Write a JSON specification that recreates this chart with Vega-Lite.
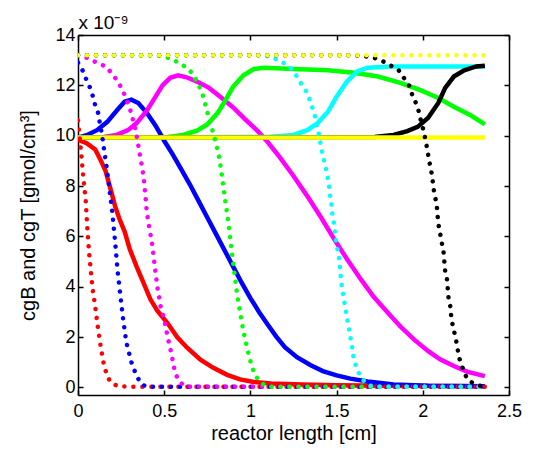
{
  "$schema": "https://vega.github.io/schema/vega-lite/v6.json",
  "autosize": {"type": "none"},
  "width": 431,
  "height": 360,
  "padding": {"left": 78, "top": 35, "right": 25, "bottom": 55},
  "background": "white",
  "config": {
    "font": "Liberation Sans",
    "view": {"stroke": null},
    "axis": {
      "domainColor": "black", "domainWidth": 1.5,
      "tickColor": "black", "tickWidth": 1.5, "tickSize": -5,
      "labelFont": "Liberation Sans", "labelFontSize": 18, "labelColor": "black",
      "titleFont": "Liberation Sans", "titleFontSize": 20, "titleFontWeight": "normal", "titleColor": "black",
      "grid": false
    }
  },
  "datasets": {
    "curves": [
      {"time": "t1", "quantity": "cgB", "x": 0, "y": 9.84},
      {"time": "t1", "quantity": "cgB", "x": 0.05, "y": 9.7},
      {"time": "t1", "quantity": "cgB", "x": 0.1, "y": 9.45},
      {"time": "t1", "quantity": "cgB", "x": 0.13, "y": 9.05},
      {"time": "t1", "quantity": "cgB", "x": 0.16, "y": 8.6},
      {"time": "t1", "quantity": "cgB", "x": 0.19, "y": 7.85},
      {"time": "t1", "quantity": "cgB", "x": 0.215, "y": 7.2},
      {"time": "t1", "quantity": "cgB", "x": 0.24, "y": 6.7},
      {"time": "t1", "quantity": "cgB", "x": 0.27, "y": 6.2},
      {"time": "t1", "quantity": "cgB", "x": 0.3, "y": 5.5},
      {"time": "t1", "quantity": "cgB", "x": 0.34, "y": 4.8},
      {"time": "t1", "quantity": "cgB", "x": 0.38, "y": 4.15},
      {"time": "t1", "quantity": "cgB", "x": 0.42, "y": 3.5},
      {"time": "t1", "quantity": "cgB", "x": 0.46, "y": 3.05},
      {"time": "t1", "quantity": "cgB", "x": 0.52, "y": 2.55},
      {"time": "t1", "quantity": "cgB", "x": 0.575, "y": 2.0},
      {"time": "t1", "quantity": "cgB", "x": 0.63, "y": 1.6},
      {"time": "t1", "quantity": "cgB", "x": 0.71, "y": 1.1},
      {"time": "t1", "quantity": "cgB", "x": 0.785, "y": 0.78},
      {"time": "t1", "quantity": "cgB", "x": 0.865, "y": 0.5},
      {"time": "t1", "quantity": "cgB", "x": 0.94, "y": 0.32},
      {"time": "t1", "quantity": "cgB", "x": 1.02, "y": 0.22},
      {"time": "t1", "quantity": "cgB", "x": 1.12, "y": 0.16},
      {"time": "t1", "quantity": "cgB", "x": 1.3, "y": 0.12},
      {"time": "t1", "quantity": "cgB", "x": 1.5, "y": 0.09},
      {"time": "t1", "quantity": "cgB", "x": 1.8, "y": 0.07},
      {"time": "t1", "quantity": "cgB", "x": 2.1, "y": 0.06},
      {"time": "t1", "quantity": "cgB", "x": 2.36, "y": 0.05},

      {"time": "t2", "quantity": "cgB", "x": 0, "y": 9.93},
      {"time": "t2", "quantity": "cgB", "x": 0.05, "y": 10.02},
      {"time": "t2", "quantity": "cgB", "x": 0.11, "y": 10.22},
      {"time": "t2", "quantity": "cgB", "x": 0.17, "y": 10.55},
      {"time": "t2", "quantity": "cgB", "x": 0.225, "y": 11.0},
      {"time": "t2", "quantity": "cgB", "x": 0.27, "y": 11.35},
      {"time": "t2", "quantity": "cgB", "x": 0.31, "y": 11.43},
      {"time": "t2", "quantity": "cgB", "x": 0.35, "y": 11.3},
      {"time": "t2", "quantity": "cgB", "x": 0.4, "y": 10.9},
      {"time": "t2", "quantity": "cgB", "x": 0.45, "y": 10.4},
      {"time": "t2", "quantity": "cgB", "x": 0.5, "y": 9.8},
      {"time": "t2", "quantity": "cgB", "x": 0.55, "y": 9.25},
      {"time": "t2", "quantity": "cgB", "x": 0.6, "y": 8.65},
      {"time": "t2", "quantity": "cgB", "x": 0.65, "y": 8.05},
      {"time": "t2", "quantity": "cgB", "x": 0.7, "y": 7.4},
      {"time": "t2", "quantity": "cgB", "x": 0.75, "y": 6.75},
      {"time": "t2", "quantity": "cgB", "x": 0.8, "y": 6.1},
      {"time": "t2", "quantity": "cgB", "x": 0.85, "y": 5.45},
      {"time": "t2", "quantity": "cgB", "x": 0.9, "y": 4.8},
      {"time": "t2", "quantity": "cgB", "x": 0.95, "y": 4.15},
      {"time": "t2", "quantity": "cgB", "x": 1.0, "y": 3.55},
      {"time": "t2", "quantity": "cgB", "x": 1.05, "y": 3.0},
      {"time": "t2", "quantity": "cgB", "x": 1.1, "y": 2.5},
      {"time": "t2", "quantity": "cgB", "x": 1.15, "y": 2.02},
      {"time": "t2", "quantity": "cgB", "x": 1.2, "y": 1.6},
      {"time": "t2", "quantity": "cgB", "x": 1.27, "y": 1.2},
      {"time": "t2", "quantity": "cgB", "x": 1.35, "y": 0.88},
      {"time": "t2", "quantity": "cgB", "x": 1.42, "y": 0.65},
      {"time": "t2", "quantity": "cgB", "x": 1.5, "y": 0.48},
      {"time": "t2", "quantity": "cgB", "x": 1.58, "y": 0.35},
      {"time": "t2", "quantity": "cgB", "x": 1.68, "y": 0.24},
      {"time": "t2", "quantity": "cgB", "x": 1.83, "y": 0.12},
      {"time": "t2", "quantity": "cgB", "x": 2.03, "y": 0.07},
      {"time": "t2", "quantity": "cgB", "x": 2.36, "y": 0.05},

      {"time": "t3", "quantity": "cgB", "x": 0, "y": 9.93},
      {"time": "t3", "quantity": "cgB", "x": 0.15, "y": 9.95},
      {"time": "t3", "quantity": "cgB", "x": 0.225, "y": 10.03},
      {"time": "t3", "quantity": "cgB", "x": 0.29, "y": 10.22},
      {"time": "t3", "quantity": "cgB", "x": 0.34, "y": 10.5},
      {"time": "t3", "quantity": "cgB", "x": 0.4, "y": 11.0},
      {"time": "t3", "quantity": "cgB", "x": 0.45, "y": 11.55},
      {"time": "t3", "quantity": "cgB", "x": 0.49, "y": 12.0},
      {"time": "t3", "quantity": "cgB", "x": 0.535, "y": 12.3},
      {"time": "t3", "quantity": "cgB", "x": 0.58, "y": 12.4},
      {"time": "t3", "quantity": "cgB", "x": 0.63, "y": 12.32},
      {"time": "t3", "quantity": "cgB", "x": 0.69, "y": 12.15},
      {"time": "t3", "quantity": "cgB", "x": 0.76, "y": 11.9},
      {"time": "t3", "quantity": "cgB", "x": 0.825, "y": 11.55},
      {"time": "t3", "quantity": "cgB", "x": 0.9, "y": 11.12},
      {"time": "t3", "quantity": "cgB", "x": 0.97, "y": 10.65},
      {"time": "t3", "quantity": "cgB", "x": 1.04, "y": 10.2},
      {"time": "t3", "quantity": "cgB", "x": 1.1, "y": 9.75},
      {"time": "t3", "quantity": "cgB", "x": 1.17, "y": 9.15},
      {"time": "t3", "quantity": "cgB", "x": 1.25, "y": 8.4},
      {"time": "t3", "quantity": "cgB", "x": 1.33, "y": 7.6},
      {"time": "t3", "quantity": "cgB", "x": 1.41, "y": 6.75},
      {"time": "t3", "quantity": "cgB", "x": 1.485, "y": 5.9},
      {"time": "t3", "quantity": "cgB", "x": 1.56, "y": 5.1},
      {"time": "t3", "quantity": "cgB", "x": 1.64, "y": 4.3},
      {"time": "t3", "quantity": "cgB", "x": 1.715, "y": 3.6},
      {"time": "t3", "quantity": "cgB", "x": 1.8, "y": 2.95},
      {"time": "t3", "quantity": "cgB", "x": 1.87, "y": 2.42},
      {"time": "t3", "quantity": "cgB", "x": 1.95, "y": 1.9},
      {"time": "t3", "quantity": "cgB", "x": 2.03, "y": 1.45},
      {"time": "t3", "quantity": "cgB", "x": 2.1, "y": 1.12},
      {"time": "t3", "quantity": "cgB", "x": 2.18, "y": 0.85},
      {"time": "t3", "quantity": "cgB", "x": 2.26, "y": 0.62},
      {"time": "t3", "quantity": "cgB", "x": 2.36, "y": 0.45},

      {"time": "t4", "quantity": "cgB", "x": 0, "y": 9.93},
      {"time": "t4", "quantity": "cgB", "x": 0.52, "y": 9.95},
      {"time": "t4", "quantity": "cgB", "x": 0.61, "y": 10.03},
      {"time": "t4", "quantity": "cgB", "x": 0.69, "y": 10.2},
      {"time": "t4", "quantity": "cgB", "x": 0.75, "y": 10.45},
      {"time": "t4", "quantity": "cgB", "x": 0.81, "y": 10.9},
      {"time": "t4", "quantity": "cgB", "x": 0.855, "y": 11.4},
      {"time": "t4", "quantity": "cgB", "x": 0.9, "y": 11.95},
      {"time": "t4", "quantity": "cgB", "x": 0.96, "y": 12.4},
      {"time": "t4", "quantity": "cgB", "x": 1.02, "y": 12.65},
      {"time": "t4", "quantity": "cgB", "x": 1.08, "y": 12.7},
      {"time": "t4", "quantity": "cgB", "x": 1.25, "y": 12.65},
      {"time": "t4", "quantity": "cgB", "x": 1.45, "y": 12.6},
      {"time": "t4", "quantity": "cgB", "x": 1.6, "y": 12.5},
      {"time": "t4", "quantity": "cgB", "x": 1.74, "y": 12.35},
      {"time": "t4", "quantity": "cgB", "x": 1.87, "y": 12.1},
      {"time": "t4", "quantity": "cgB", "x": 1.99, "y": 11.8},
      {"time": "t4", "quantity": "cgB", "x": 2.09, "y": 11.5},
      {"time": "t4", "quantity": "cgB", "x": 2.18, "y": 11.15},
      {"time": "t4", "quantity": "cgB", "x": 2.28, "y": 10.8},
      {"time": "t4", "quantity": "cgB", "x": 2.36, "y": 10.45},

      {"time": "t5", "quantity": "cgB", "x": 0, "y": 9.93},
      {"time": "t5", "quantity": "cgB", "x": 1.1, "y": 9.95},
      {"time": "t5", "quantity": "cgB", "x": 1.25, "y": 10.03},
      {"time": "t5", "quantity": "cgB", "x": 1.33, "y": 10.22},
      {"time": "t5", "quantity": "cgB", "x": 1.39, "y": 10.5},
      {"time": "t5", "quantity": "cgB", "x": 1.45, "y": 10.95},
      {"time": "t5", "quantity": "cgB", "x": 1.5, "y": 11.55},
      {"time": "t5", "quantity": "cgB", "x": 1.56, "y": 12.15},
      {"time": "t5", "quantity": "cgB", "x": 1.62, "y": 12.55},
      {"time": "t5", "quantity": "cgB", "x": 1.68, "y": 12.7},
      {"time": "t5", "quantity": "cgB", "x": 1.83, "y": 12.75},
      {"time": "t5", "quantity": "cgB", "x": 2.36, "y": 12.75},

      {"time": "t6", "quantity": "cgB", "x": 0, "y": 9.93},
      {"time": "t6", "quantity": "cgB", "x": 1.72, "y": 9.95},
      {"time": "t6", "quantity": "cgB", "x": 1.83, "y": 10.03},
      {"time": "t6", "quantity": "cgB", "x": 1.91, "y": 10.18},
      {"time": "t6", "quantity": "cgB", "x": 1.97, "y": 10.35},
      {"time": "t6", "quantity": "cgB", "x": 2.03, "y": 10.7},
      {"time": "t6", "quantity": "cgB", "x": 2.09, "y": 11.3},
      {"time": "t6", "quantity": "cgB", "x": 2.13, "y": 11.9},
      {"time": "t6", "quantity": "cgB", "x": 2.18, "y": 12.35},
      {"time": "t6", "quantity": "cgB", "x": 2.24, "y": 12.6},
      {"time": "t6", "quantity": "cgB", "x": 2.31, "y": 12.75},
      {"time": "t6", "quantity": "cgB", "x": 2.36, "y": 12.78},

      {"time": "t0", "quantity": "cgB", "x": 0, "y": 9.93},
      {"time": "t0", "quantity": "cgB", "x": 2.36, "y": 9.93},

      {"time": "t1", "quantity": "cgT", "x": 0, "y": 10.6},
      {"time": "t1", "quantity": "cgT", "x": 0.01, "y": 9.9},
      {"time": "t1", "quantity": "cgT", "x": 0.02, "y": 9.2},
      {"time": "t1", "quantity": "cgT", "x": 0.03, "y": 8.4},
      {"time": "t1", "quantity": "cgT", "x": 0.045, "y": 7.4},
      {"time": "t1", "quantity": "cgT", "x": 0.055, "y": 6.2},
      {"time": "t1", "quantity": "cgT", "x": 0.065, "y": 5.3},
      {"time": "t1", "quantity": "cgT", "x": 0.075, "y": 4.6},
      {"time": "t1", "quantity": "cgT", "x": 0.085, "y": 3.9},
      {"time": "t1", "quantity": "cgT", "x": 0.1, "y": 3.2},
      {"time": "t1", "quantity": "cgT", "x": 0.115, "y": 2.4},
      {"time": "t1", "quantity": "cgT", "x": 0.13, "y": 1.7},
      {"time": "t1", "quantity": "cgT", "x": 0.15, "y": 0.9},
      {"time": "t1", "quantity": "cgT", "x": 0.17, "y": 0.44},
      {"time": "t1", "quantity": "cgT", "x": 0.19, "y": 0.2},
      {"time": "t1", "quantity": "cgT", "x": 0.23, "y": 0.05},
      {"time": "t1", "quantity": "cgT", "x": 0.3, "y": 0.03},
      {"time": "t1", "quantity": "cgT", "x": 2.36, "y": 0.03},

      {"time": "t2", "quantity": "cgT", "x": 0, "y": 12.9},
      {"time": "t2", "quantity": "cgT", "x": 0.03, "y": 12.55},
      {"time": "t2", "quantity": "cgT", "x": 0.05, "y": 12.2},
      {"time": "t2", "quantity": "cgT", "x": 0.07, "y": 11.9},
      {"time": "t2", "quantity": "cgT", "x": 0.087, "y": 11.55},
      {"time": "t2", "quantity": "cgT", "x": 0.1, "y": 11.2},
      {"time": "t2", "quantity": "cgT", "x": 0.117, "y": 10.9},
      {"time": "t2", "quantity": "cgT", "x": 0.128, "y": 10.45},
      {"time": "t2", "quantity": "cgT", "x": 0.14, "y": 10.0},
      {"time": "t2", "quantity": "cgT", "x": 0.15, "y": 9.5},
      {"time": "t2", "quantity": "cgT", "x": 0.165, "y": 8.8},
      {"time": "t2", "quantity": "cgT", "x": 0.18, "y": 8.0},
      {"time": "t2", "quantity": "cgT", "x": 0.2, "y": 6.9},
      {"time": "t2", "quantity": "cgT", "x": 0.215, "y": 5.8},
      {"time": "t2", "quantity": "cgT", "x": 0.23, "y": 4.6},
      {"time": "t2", "quantity": "cgT", "x": 0.245, "y": 3.7},
      {"time": "t2", "quantity": "cgT", "x": 0.26, "y": 2.8},
      {"time": "t2", "quantity": "cgT", "x": 0.28, "y": 1.8},
      {"time": "t2", "quantity": "cgT", "x": 0.31, "y": 1.0},
      {"time": "t2", "quantity": "cgT", "x": 0.34, "y": 0.45},
      {"time": "t2", "quantity": "cgT", "x": 0.37, "y": 0.12},
      {"time": "t2", "quantity": "cgT", "x": 0.4, "y": 0.03},
      {"time": "t2", "quantity": "cgT", "x": 2.36, "y": 0.03},

      {"time": "t3", "quantity": "cgT", "x": 0, "y": 13.2},
      {"time": "t3", "quantity": "cgT", "x": 0.05, "y": 13.1},
      {"time": "t3", "quantity": "cgT", "x": 0.11, "y": 12.9},
      {"time": "t3", "quantity": "cgT", "x": 0.16, "y": 12.75},
      {"time": "t3", "quantity": "cgT", "x": 0.2, "y": 12.45},
      {"time": "t3", "quantity": "cgT", "x": 0.235, "y": 12.1},
      {"time": "t3", "quantity": "cgT", "x": 0.26, "y": 11.8},
      {"time": "t3", "quantity": "cgT", "x": 0.28, "y": 11.45},
      {"time": "t3", "quantity": "cgT", "x": 0.3, "y": 11.1},
      {"time": "t3", "quantity": "cgT", "x": 0.32, "y": 10.6},
      {"time": "t3", "quantity": "cgT", "x": 0.335, "y": 10.2},
      {"time": "t3", "quantity": "cgT", "x": 0.35, "y": 9.6},
      {"time": "t3", "quantity": "cgT", "x": 0.36, "y": 9.2},
      {"time": "t3", "quantity": "cgT", "x": 0.38, "y": 8.4},
      {"time": "t3", "quantity": "cgT", "x": 0.39, "y": 7.7},
      {"time": "t3", "quantity": "cgT", "x": 0.4, "y": 6.9},
      {"time": "t3", "quantity": "cgT", "x": 0.415, "y": 6.3},
      {"time": "t3", "quantity": "cgT", "x": 0.43, "y": 5.7},
      {"time": "t3", "quantity": "cgT", "x": 0.44, "y": 5.1},
      {"time": "t3", "quantity": "cgT", "x": 0.46, "y": 4.0},
      {"time": "t3", "quantity": "cgT", "x": 0.48, "y": 3.2},
      {"time": "t3", "quantity": "cgT", "x": 0.5, "y": 2.7},
      {"time": "t3", "quantity": "cgT", "x": 0.52, "y": 2.0},
      {"time": "t3", "quantity": "cgT", "x": 0.54, "y": 1.4},
      {"time": "t3", "quantity": "cgT", "x": 0.56, "y": 0.7},
      {"time": "t3", "quantity": "cgT", "x": 0.58, "y": 0.3},
      {"time": "t3", "quantity": "cgT", "x": 0.61, "y": 0.1},
      {"time": "t3", "quantity": "cgT", "x": 0.64, "y": 0.03},
      {"time": "t3", "quantity": "cgT", "x": 2.36, "y": 0.03},

      {"time": "t4", "quantity": "cgT", "x": 0, "y": 13.2},
      {"time": "t4", "quantity": "cgT", "x": 0.45, "y": 13.2},
      {"time": "t4", "quantity": "cgT", "x": 0.52, "y": 13.1},
      {"time": "t4", "quantity": "cgT", "x": 0.57, "y": 12.95},
      {"time": "t4", "quantity": "cgT", "x": 0.62, "y": 12.75},
      {"time": "t4", "quantity": "cgT", "x": 0.66, "y": 12.5},
      {"time": "t4", "quantity": "cgT", "x": 0.69, "y": 12.15},
      {"time": "t4", "quantity": "cgT", "x": 0.72, "y": 11.7},
      {"time": "t4", "quantity": "cgT", "x": 0.74, "y": 11.2},
      {"time": "t4", "quantity": "cgT", "x": 0.76, "y": 10.7},
      {"time": "t4", "quantity": "cgT", "x": 0.78, "y": 10.2},
      {"time": "t4", "quantity": "cgT", "x": 0.8, "y": 9.7},
      {"time": "t4", "quantity": "cgT", "x": 0.82, "y": 9.1},
      {"time": "t4", "quantity": "cgT", "x": 0.835, "y": 8.4},
      {"time": "t4", "quantity": "cgT", "x": 0.85, "y": 7.6},
      {"time": "t4", "quantity": "cgT", "x": 0.865, "y": 6.9},
      {"time": "t4", "quantity": "cgT", "x": 0.88, "y": 6.1},
      {"time": "t4", "quantity": "cgT", "x": 0.895, "y": 5.2},
      {"time": "t4", "quantity": "cgT", "x": 0.91, "y": 4.4},
      {"time": "t4", "quantity": "cgT", "x": 0.925, "y": 3.6},
      {"time": "t4", "quantity": "cgT", "x": 0.94, "y": 3.0},
      {"time": "t4", "quantity": "cgT", "x": 0.955, "y": 2.4},
      {"time": "t4", "quantity": "cgT", "x": 0.97, "y": 1.9},
      {"time": "t4", "quantity": "cgT", "x": 0.99, "y": 1.3},
      {"time": "t4", "quantity": "cgT", "x": 1.01, "y": 0.8},
      {"time": "t4", "quantity": "cgT", "x": 1.03, "y": 0.45},
      {"time": "t4", "quantity": "cgT", "x": 1.06, "y": 0.18},
      {"time": "t4", "quantity": "cgT", "x": 1.1, "y": 0.03},
      {"time": "t4", "quantity": "cgT", "x": 2.36, "y": 0.03},

      {"time": "t5", "quantity": "cgT", "x": 0, "y": 13.2},
      {"time": "t5", "quantity": "cgT", "x": 1.08, "y": 13.2},
      {"time": "t5", "quantity": "cgT", "x": 1.145, "y": 13.05},
      {"time": "t5", "quantity": "cgT", "x": 1.19, "y": 12.9},
      {"time": "t5", "quantity": "cgT", "x": 1.24, "y": 12.65},
      {"time": "t5", "quantity": "cgT", "x": 1.27, "y": 12.35},
      {"time": "t5", "quantity": "cgT", "x": 1.3, "y": 12.0},
      {"time": "t5", "quantity": "cgT", "x": 1.33, "y": 11.7},
      {"time": "t5", "quantity": "cgT", "x": 1.345, "y": 11.4},
      {"time": "t5", "quantity": "cgT", "x": 1.365, "y": 11.0},
      {"time": "t5", "quantity": "cgT", "x": 1.38, "y": 10.65},
      {"time": "t5", "quantity": "cgT", "x": 1.39, "y": 10.3},
      {"time": "t5", "quantity": "cgT", "x": 1.4, "y": 9.95},
      {"time": "t5", "quantity": "cgT", "x": 1.41, "y": 9.55},
      {"time": "t5", "quantity": "cgT", "x": 1.42, "y": 9.2},
      {"time": "t5", "quantity": "cgT", "x": 1.435, "y": 8.8},
      {"time": "t5", "quantity": "cgT", "x": 1.445, "y": 8.45},
      {"time": "t5", "quantity": "cgT", "x": 1.455, "y": 8.1},
      {"time": "t5", "quantity": "cgT", "x": 1.46, "y": 7.7},
      {"time": "t5", "quantity": "cgT", "x": 1.47, "y": 7.3},
      {"time": "t5", "quantity": "cgT", "x": 1.475, "y": 6.9},
      {"time": "t5", "quantity": "cgT", "x": 1.485, "y": 6.5},
      {"time": "t5", "quantity": "cgT", "x": 1.495, "y": 5.9},
      {"time": "t5", "quantity": "cgT", "x": 1.505, "y": 5.5},
      {"time": "t5", "quantity": "cgT", "x": 1.515, "y": 5.1},
      {"time": "t5", "quantity": "cgT", "x": 1.52, "y": 4.7},
      {"time": "t5", "quantity": "cgT", "x": 1.53, "y": 4.0},
      {"time": "t5", "quantity": "cgT", "x": 1.54, "y": 3.6},
      {"time": "t5", "quantity": "cgT", "x": 1.55, "y": 3.2},
      {"time": "t5", "quantity": "cgT", "x": 1.565, "y": 2.6},
      {"time": "t5", "quantity": "cgT", "x": 1.575, "y": 2.2},
      {"time": "t5", "quantity": "cgT", "x": 1.59, "y": 1.6},
      {"time": "t5", "quantity": "cgT", "x": 1.6, "y": 1.1},
      {"time": "t5", "quantity": "cgT", "x": 1.62, "y": 0.7},
      {"time": "t5", "quantity": "cgT", "x": 1.64, "y": 0.4},
      {"time": "t5", "quantity": "cgT", "x": 1.68, "y": 0.1},
      {"time": "t5", "quantity": "cgT", "x": 1.72, "y": 0.03},
      {"time": "t5", "quantity": "cgT", "x": 2.36, "y": 0.03},

      {"time": "t6", "quantity": "cgT", "x": 0, "y": 13.2},
      {"time": "t6", "quantity": "cgT", "x": 1.6, "y": 13.2},
      {"time": "t6", "quantity": "cgT", "x": 1.67, "y": 13.15},
      {"time": "t6", "quantity": "cgT", "x": 1.715, "y": 13.1},
      {"time": "t6", "quantity": "cgT", "x": 1.77, "y": 12.95},
      {"time": "t6", "quantity": "cgT", "x": 1.81, "y": 12.8},
      {"time": "t6", "quantity": "cgT", "x": 1.86, "y": 12.6},
      {"time": "t6", "quantity": "cgT", "x": 1.89, "y": 12.3},
      {"time": "t6", "quantity": "cgT", "x": 1.92, "y": 12.0},
      {"time": "t6", "quantity": "cgT", "x": 1.94, "y": 11.6},
      {"time": "t6", "quantity": "cgT", "x": 1.96, "y": 11.3},
      {"time": "t6", "quantity": "cgT", "x": 1.98, "y": 10.9},
      {"time": "t6", "quantity": "cgT", "x": 1.99, "y": 10.55},
      {"time": "t6", "quantity": "cgT", "x": 2.005, "y": 10.2},
      {"time": "t6", "quantity": "cgT", "x": 2.015, "y": 9.85},
      {"time": "t6", "quantity": "cgT", "x": 2.025, "y": 9.5},
      {"time": "t6", "quantity": "cgT", "x": 2.035, "y": 9.1},
      {"time": "t6", "quantity": "cgT", "x": 2.045, "y": 8.7},
      {"time": "t6", "quantity": "cgT", "x": 2.055, "y": 8.4},
      {"time": "t6", "quantity": "cgT", "x": 2.06, "y": 8.0},
      {"time": "t6", "quantity": "cgT", "x": 2.07, "y": 7.6},
      {"time": "t6", "quantity": "cgT", "x": 2.08, "y": 7.3},
      {"time": "t6", "quantity": "cgT", "x": 2.085, "y": 6.9},
      {"time": "t6", "quantity": "cgT", "x": 2.09, "y": 6.5},
      {"time": "t6", "quantity": "cgT", "x": 2.1, "y": 6.15},
      {"time": "t6", "quantity": "cgT", "x": 2.11, "y": 5.75},
      {"time": "t6", "quantity": "cgT", "x": 2.12, "y": 5.4},
      {"time": "t6", "quantity": "cgT", "x": 2.125, "y": 5.0},
      {"time": "t6", "quantity": "cgT", "x": 2.13, "y": 4.6},
      {"time": "t6", "quantity": "cgT", "x": 2.14, "y": 4.3},
      {"time": "t6", "quantity": "cgT", "x": 2.145, "y": 3.9},
      {"time": "t6", "quantity": "cgT", "x": 2.15, "y": 3.5},
      {"time": "t6", "quantity": "cgT", "x": 2.16, "y": 3.2},
      {"time": "t6", "quantity": "cgT", "x": 2.165, "y": 2.8},
      {"time": "t6", "quantity": "cgT", "x": 2.175, "y": 2.4},
      {"time": "t6", "quantity": "cgT", "x": 2.19, "y": 2.0},
      {"time": "t6", "quantity": "cgT", "x": 2.2, "y": 1.6},
      {"time": "t6", "quantity": "cgT", "x": 2.21, "y": 1.2},
      {"time": "t6", "quantity": "cgT", "x": 2.225, "y": 0.9},
      {"time": "t6", "quantity": "cgT", "x": 2.24, "y": 0.6},
      {"time": "t6", "quantity": "cgT", "x": 2.26, "y": 0.3},
      {"time": "t6", "quantity": "cgT", "x": 2.31, "y": 0.1},
      {"time": "t6", "quantity": "cgT", "x": 2.36, "y": 0.03},

      {"time": "t0", "quantity": "cgT", "x": 0, "y": 13.2},
      {"time": "t0", "quantity": "cgT", "x": 2.36, "y": 13.2}
    ],
    "frame": [{"x": 0, "y": 0}]
  },
  "layer": [
    {
      "data": {"name": "curves"},
      "encoding": {
        "x": {"field": "x", "type": "quantitative",
              "scale": {"domain": [0, 2.5], "nice": false, "zero": false},
              "axis": {"orient": "bottom", "title": "reactor length [cm]", "values": [0, 0.5, 1, 1.5, 2, 2.5], "format": "~g", "labelPadding": 12, "titlePadding": 3, "labelFlush": false}},
        "y": {"field": "y", "type": "quantitative",
              "scale": {"domain": [-0.3, 14], "nice": false, "zero": false},
              "axis": {"orient": "left", "title": "cgB and cgT [gmol/cm³]", "values": [0, 2, 4, 6, 8, 10, 12, 14], "labelPadding": 8, "titleY": 180, "titleX": -40, "labelFlush": false}},
        "color": {"field": "time", "type": "nominal", "legend": null,
                  "scale": {"domain": ["t0", "t1", "t2", "t3", "t4", "t5", "t6"],
                            "range": ["#ffff00", "#ff0000", "#0000ff", "#ff00ff", "#00ff00", "#00ffff", "#000000"]}}
      },
      "layer": [
        {"transform": [{"filter": "datum.quantity === 'cgB' && datum.time !== 't0'"}],
         "mark": {"type": "line", "strokeWidth": 4.5, "clip": true}},
        {"transform": [{"filter": "datum.quantity === 'cgB' && datum.time === 't0'"}],
         "mark": {"type": "line", "strokeWidth": 4.5, "clip": true}},
        {"transform": [{"filter": "datum.quantity === 'cgT' && datum.time !== 't0'"}],
         "mark": {"type": "line", "strokeWidth": 4.5, "strokeDash": [0.01, 9], "strokeCap": "round", "clip": true}},
        {"transform": [{"filter": "datum.quantity === 'cgT' && datum.time === 't0'"}],
         "mark": {"type": "line", "strokeWidth": 4.5, "strokeDash": [0.01, 9], "strokeCap": "round", "clip": true}}
      ]
    },
    {
      "data": {"name": "frame"},
      "mark": {"type": "point", "opacity": 0},
      "encoding": {
        "x": {"field": "x", "type": "quantitative",
              "scale": {"domain": [0, 2.5], "nice": false, "zero": false},
              "axis": {"orient": "top", "title": "x 10⁻⁹", "titleX": 0, "titleY": -7, "titleAlign": "left", "titleBaseline": "alphabetic", "titleFontSize": 19, "labels": false, "values": [0, 0.5, 1, 1.5, 2, 2.5]}},
        "y": {"field": "y", "type": "quantitative",
              "scale": {"domain": [-0.3, 14], "nice": false, "zero": false},
              "axis": {"orient": "right", "title": null, "labels": false, "values": [0, 2, 4, 6, 8, 10, 12, 14]}}
      }
    }
  ],
  "resolve": {"scale": {"x": "independent", "y": "independent"}, "axis": {"x": "independent", "y": "independent"}}
}
